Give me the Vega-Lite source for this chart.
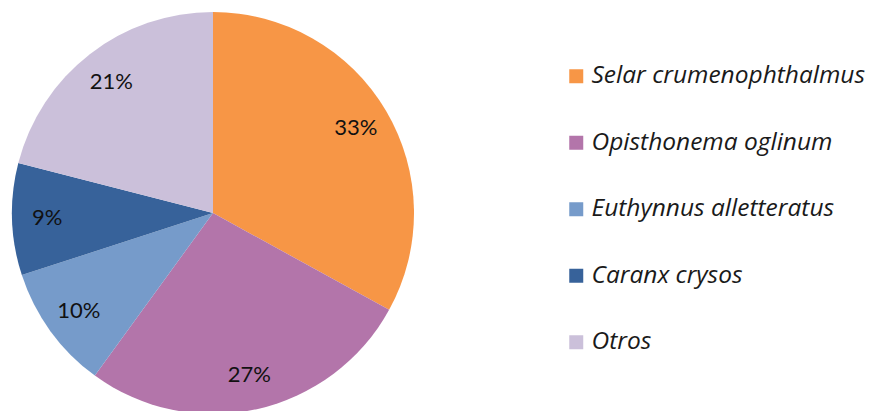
{
  "$schema": "https://vega.github.io/schema/vega-lite/v6.json",
  "width": 426,
  "height": 426,
  "padding": 0,
  "autosize": "pad",
  "background": "white",
  "view": {"stroke": null},
  "data": {"values": [
    {"especie": "Selar crumenophthalmus", "pct": 0.33, "orden": 1},
    {"especie": "Opisthonema oglinum", "pct": 0.27, "orden": 2},
    {"especie": "Euthynnus alletteratus", "pct": 0.10, "orden": 3},
    {"especie": "Caranx crysos", "pct": 0.09, "orden": 4},
    {"especie": "Otros", "pct": 0.21, "orden": 5}
  ]},
  "encoding": {
    "theta": {"field": "pct", "type": "quantitative", "stack": true},
    "order": {"field": "orden", "type": "quantitative"}
  },
  "layer": [
    {
      "mark": {"type": "arc", "outerRadius": 201, "stroke": null},
      "encoding": {
        "color": {
          "field": "especie",
          "type": "nominal",
          "sort": ["Selar crumenophthalmus", "Opisthonema oglinum", "Euthynnus alletteratus", "Caranx crysos", "Otros"],
          "scale": {
            "domain": ["Selar crumenophthalmus", "Opisthonema oglinum", "Euthynnus alletteratus", "Caranx crysos", "Otros"],
            "range": ["#F79646", "#B375AA", "#769BCA", "#37629A", "#CBC0DA"]
          },
          "legend": {
            "title": null,
            "orient": "none",
            "legendX": 564,
            "legendY": 64,
            "padding": 0,
            "symbolType": "square",
            "symbolSize": 196,
            "symbolStrokeWidth": 0,
            "symbolOpacity": 1,
            "labelFont": "Open Sans",
            "labelFontStyle": "italic",
            "labelFontSize": 24.5,
            "labelColor": "#1a1a1a",
            "labelOffset": 3,
            "labelLimit": 400,
            "rowPadding": 41.5
          }
        }
      }
    },
    {
      "mark": {"type": "text", "radius": 166, "font": "Lato", "fontSize": 22, "color": "#111111"},
      "encoding": {
        "text": {"field": "pct", "type": "quantitative", "format": ".0%"},
        "detail": {"field": "especie"}
      }
    }
  ]
}
